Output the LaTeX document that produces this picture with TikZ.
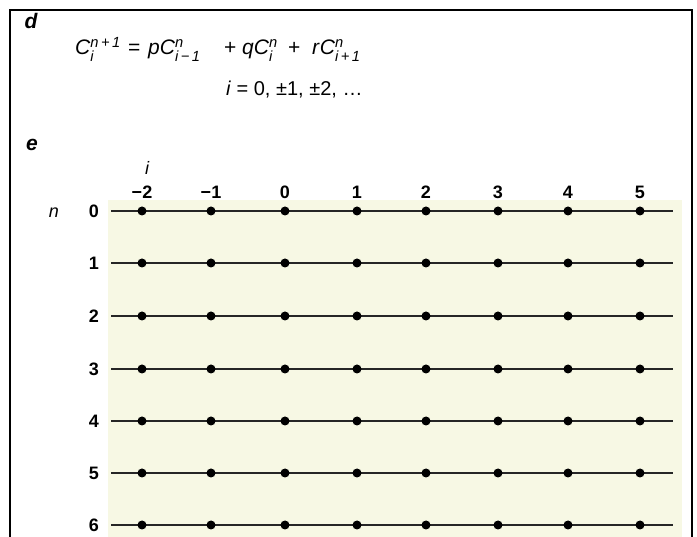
\documentclass[tikz,border=0pt]{standalone}
\usepackage{fontspec}
\usepackage{amsmath}
\setmainfont{Liberation Sans}
\newcommand\Cv[2]{\textit{C}$^{\text{#1}}_{\text{#2}}$}
\definecolor{tint}{RGB}{247,248,228}
\begin{document}
\begin{tikzpicture}[x=1pt,y=-1pt,
  frameline/.style={line width=1.4pt,black},
  gridline/.style={line width=1.4pt,black!85},
  dotnode/.style={circle,fill=black,inner sep=0pt,minimum size=9pt},
  lbl/.style={font=\fontsize{18}{20}\selectfont\bfseries,inner sep=0pt},
  eqtext/.style={font=\fontsize{21}{23}\selectfont,inner sep=0pt,anchor=base west},
  panel/.style={font=\fontsize{21}{23}\selectfont\bfseries\itshape,inner sep=0pt}]
\useasboundingbox (0,0) rectangle (697,537);
% tinted area
\fill[tint] (108,200) rectangle (682,537);
% frame
\draw[frameline] (10,537) -- (10,10) -- (692,10) -- (692,537);
% panel letters
\node[panel] (pd) at (31,21) {d};
\node[panel] (pe) at (32,145) {e};
% equation, first line
\node[eqtext] (t1) at (75,55) {\Cv{\itshape n\,+\,1}{\itshape i}};
\node[eqtext] (t2) at (128,55) {=};
\node[eqtext] (t3) at (148,55) {\textit{p}\Cv{\itshape n}{\itshape i\,−\,1}};
\node[eqtext] (t4) at (224,55) {+};
\node[eqtext] (t5) at (242,55) {\textit{q}\Cv{\itshape n}{\itshape i}};
\node[eqtext] (t6) at (288,55) {+};
\node[eqtext] (t7) at (312,55) {\textit{r}\Cv{\itshape n}{\itshape i\,+\,1}};
% equation, second line
\node[eqtext,font=\fontsize{20}{22}\selectfont] (eq2) at (226,96) {\textit{i} = 0, ±1, ±2, \ldots};
% axis labels
\node[font=\fontsize{18}{20}\selectfont\itshape,inner sep=0pt] (il) at (147,168) {i};
\node[font=\fontsize{18}{20}\selectfont\itshape,inner sep=0pt] (nl) at (54,213) {n};
% columns
\def\xs{{142,211,285,357,426,498,568,640}}
\def\ys{{211,263,316,369,421,473,525}}
\foreach \c [count=\k from 0] in {−2,−1,0,1,2,3,4,5}{
  \pgfmathsetmacro\xx{\xs[\k]}
  \node[lbl] (col\k) at (\xx,192) {\c};
}
\foreach \r in {0,...,6}{
  \pgfmathsetmacro\yy{\ys[\r]}
  \node[lbl] (row\r) at (94,\yy) {\r};
  \coordinate (L\r) at (111,\yy);
  \coordinate (R\r) at (673,\yy);
  \draw[gridline] (L\r) -- (R\r);
  \foreach \k in {0,...,7}{
    \pgfmathsetmacro\xx{\xs[\k]}
    \node[dotnode] (d\r-\k) at (\xx,\yy) {};
  }
}
\end{tikzpicture}
\end{document}
